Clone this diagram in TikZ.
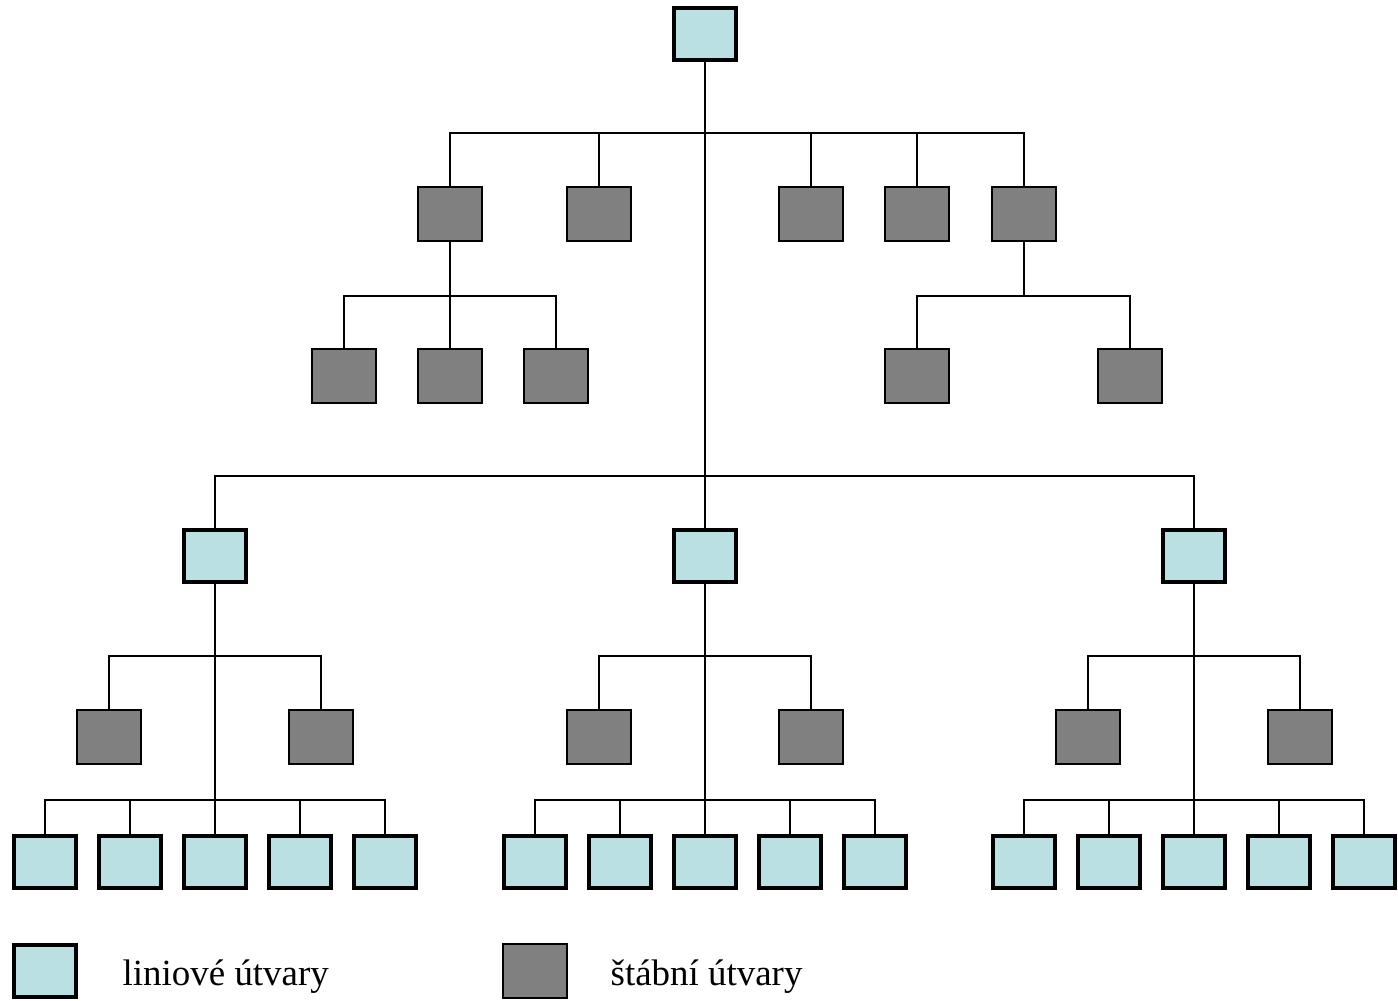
\documentclass[tikz,border=0pt]{standalone}
\usepackage{fontspec}
\setmainfont{Liberation Serif}
\usetikzlibrary{calc}
\definecolor{linefill}{RGB}{187,224,227}
\definecolor{stafffill}{RGB}{128,128,128}
\tikzset{
    linebox/.style={draw, fill=linefill, line width=1.3pt,
        minimum width=0.62cm, minimum height=0.52cm, inner sep=0pt},
    staffbox/.style={draw, fill=stafffill, line width=0.8pt,
        minimum width=0.64cm, minimum height=0.54cm, inner sep=0pt},
    conn/.style={line width=0.6pt},
    legtext/.style={anchor=base west, inner sep=0pt, font=\fontsize{10.5}{12}\selectfont},
}

\begin{document}
\begin{tikzpicture}[x=0.01cm, y=-0.01cm]
    \useasboundingbox (0,0) rectangle (1398,1000);
    % bus levels
    \coordinate (bus0) at (0,133);
    \coordinate (bus1) at (0,296);
    \coordinate (bus2) at (0,476);
    \coordinate (bus3) at (0,656);
    \coordinate (bus4) at (0,800);

    % top unit
    \node[linebox] (top) at (705,34) {};

    % staff units of the top
    \node[staffbox] (st1) at (450,214) {};
    \node[staffbox] (st2) at (599,214) {};
    \node[staffbox] (st3) at (811,214) {};
    \node[staffbox] (st4) at (917,214) {};
    \node[staffbox] (st5) at (1024,214) {};
    \draw[conn] (st1.north) -- (st1.north |- bus0) -- (st5.north |- bus0) -- (st5.north);
    \foreach \s in {st2,st3,st4}
        \draw[conn] (\s.north) -- (\s.north |- bus0);

    % staff below st1
    \node[staffbox] (sa1) at (344,376) {};
    \node[staffbox] (sa2) at (450,376) {};
    \node[staffbox] (sa3) at (556,376) {};
    \draw[conn] (st1.south) -- (sa2.north);
    \draw[conn] (sa1.north) -- (sa1.north |- bus1) -- (sa3.north |- bus1) -- (sa3.north);

    % staff below st5
    \node[staffbox] (sb1) at (917,376) {};
    \node[staffbox] (sb2) at (1130,376) {};
    \draw[conn] (st5.south) -- (st5.south |- bus1);
    \draw[conn] (sb1.north) -- (sb1.north |- bus1) -- (sb2.north |- bus1) -- (sb2.north);

    % line units
    \node[linebox] (ln1) at (215,556) {};
    \node[linebox] (ln2) at (705,556) {};
    \node[linebox] (ln3) at (1194,556) {};
    \draw[conn] (top.south) -- (ln2.north);
    \draw[conn] (ln1.north) -- (ln1.north |- bus2) -- (ln3.north |- bus2) -- (ln3.north);

    % subtrees
    \foreach \i/\x in {1/215,2/705,3/1194} {
        \node[staffbox] (p\i-a) at ({\x-106},737) {};
        \node[staffbox] (p\i-b) at ({\x+106},737) {};
        \foreach \j/\d in {1/-170,2/-85,3/0,4/85,5/170}
            \node[linebox] (u\i-\j) at ({\x+\d},862) {};
        \draw[conn] (ln\i.south) -- (u\i-3.north);
        \draw[conn] (p\i-a.north) -- (p\i-a.north |- bus3) -- (p\i-b.north |- bus3) -- (p\i-b.north);
        \draw[conn] (u\i-1.north) -- (u\i-1.north |- bus4) -- (u\i-5.north |- bus4) -- (u\i-5.north);
        \foreach \j in {2,4}
            \draw[conn] (u\i-\j.north) -- (u\i-\j.north |- bus4);
    }

    % legend
    \node[linebox] (leg1) at (45,971) {};
    \node[legtext] (leg1t) at (122,985) {liniové útvary};
    \node[staffbox] (leg2) at (535,971) {};
    \node[legtext] (leg2t) at (610,985) {štábní útvary};
\end{tikzpicture}
\end{document}
